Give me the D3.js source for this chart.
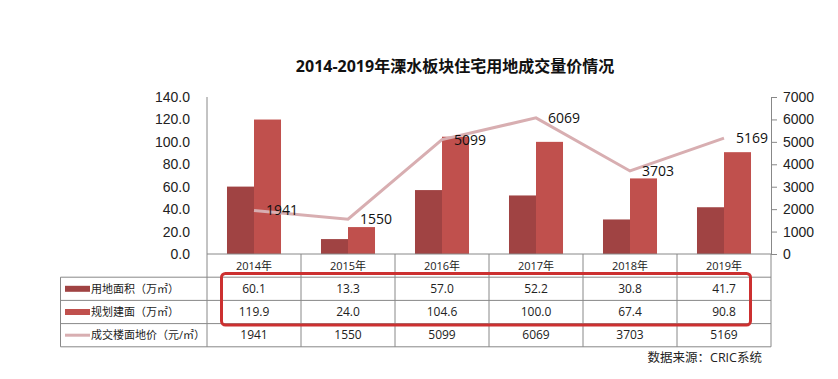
<!DOCTYPE html>
<html>
<head>
<meta charset="utf-8">
<script src="https://cdn.jsdelivr.net/npm/d3@7"></script>
<style>
  body { margin: 0; background: #fff; }
  svg { font-family: "Open Sans", "Noto Sans CJK SC", sans-serif; }
</style>
</head>
<body>
<div id="chart"></div>
<script>
const years = ["2014年", "2015年", "2016年", "2017年", "2018年", "2019年"]
const landArea = [60.1, 13.3, 57.0, 52.2, 30.8, 41.7]
const buildArea = [119.9, 24.0, 104.6, 100.0, 67.4, 90.8]
const landPrice = [1941, 1550, 5099, 6069, 3703, 5169]
const leftTicks = [0, 20, 40, 60, 80, 100, 120, 140]
const rightTicks = [0, 1000, 2000, 3000, 4000, 5000, 6000, 7000]

const seriesNames = ["用地面积（万㎡）", "规划建面（万㎡）", "成交楼面地价（元/㎡）"]
const colors = ["#a04343", "#c0504d", "#d8aeb1"]

const width = 838
const height = 379
const plotLeft = 207, plotRight = 771, plotTop = 97, base = 254
const rowH = 23.2

const svg = d3.select("#chart")
  .append("svg")
  .attr("width", width)
  .attr("height", height)

// title
svg.append("text")
  .attr("x", 455)
  .attr("y", 72)
  .attr("text-anchor", "middle")
  .style("font-size", "16px")
  .style("font-weight", "bold")
  .style("fill", "#111")
  .text("2014-2019年溧水板块住宅用地成交量价情况")

const x = d3.scaleBand().domain(years).range([plotLeft, plotRight])
const xSub = d3.scaleBand().domain([0, 1]).range([0, x.bandwidth()]).paddingOuter(0.74)
const yL = d3.scaleLinear().domain([0, 140]).range([base, plotTop])
const yR = d3.scaleLinear().domain([0, 7000]).range([base, plotTop])

// left axis
const axL = svg.append("g")
  .attr("transform", `translate(${plotLeft},0)`)
  .call(d3.axisLeft(yL).tickValues(leftTicks).tickFormat(d3.format(".1f")).tickSize(0).tickPadding(17))
axL.select(".domain").remove()
axL.selectAll("text").style("font-size", "14px").style("fill", "#222").style("font-family", "inherit")

// right axis
const axR = svg.append("g")
  .attr("transform", `translate(${plotRight},0)`)
  .call(d3.axisRight(yR).tickValues(rightTicks).tickFormat(d3.format("d")).tickSize(6).tickPadding(6))
axR.select(".domain").attr("stroke", "#888")
axR.selectAll("line").attr("stroke", "#888")
axR.selectAll("text").style("font-size", "14px").style("fill", "#222").style("font-family", "inherit")

// bars
const bars = [landArea, buildArea]
bars.forEach((vals, s) => {
  svg.append("g")
    .selectAll("rect")
    .data(vals)
    .join("rect")
    .attr("x", (d, i) => x(years[i]) + xSub(s))
    .attr("width", xSub.bandwidth())
    .attr("y", d => yL(d))
    .attr("height", d => base - yL(d))
    .attr("fill", colors[s])
})

// price line
const line = d3.line()
  .x((d, i) => x(years[i]) + x.bandwidth() / 2)
  .y(d => yR(d))

svg.append("path")
  .datum(landPrice)
  .attr("d", line)
  .attr("fill", "none")
  .attr("stroke", colors[2])
  .attr("stroke-width", 3)

svg.append("g")
  .selectAll("text")
  .data(landPrice)
  .join("text")
  .attr("x", (d, i) => x(years[i]) + x.bandwidth() / 2 + 12)
  .attr("y", d => yR(d) + 5)
  .style("font-size", "14px")
  .style("fill", "#111")
  .text(d => d)

// data table
const grid = svg.append("g").attr("stroke", "#888").attr("stroke-width", 1)
const tableLeft = 60.5
const tableBottom = base + rowH * 4
grid.append("line").attr("x1", plotLeft).attr("x2", plotRight).attr("y1", base).attr("y2", base)
for (let r = 1; r <= 4; r++) {
  grid.append("line").attr("x1", tableLeft).attr("x2", plotRight)
    .attr("y1", base + rowH * r).attr("y2", base + rowH * r)
}
grid.append("line").attr("x1", tableLeft).attr("x2", tableLeft)
  .attr("y1", base + rowH).attr("y2", tableBottom)
grid.append("line").attr("x1", plotLeft).attr("x2", plotLeft).attr("y1", plotTop).attr("y2", tableBottom)
years.forEach(yr => {
  grid.append("line").attr("x1", x(yr) + x.bandwidth()).attr("x2", x(yr) + x.bandwidth())
    .attr("y1", base).attr("y2", tableBottom)
})

svg.append("g")
  .selectAll("text")
  .data(years)
  .join("text")
  .attr("x", d => x(d) + x.bandwidth() / 2)
  .attr("y", base + 16)
  .attr("text-anchor", "middle")
  .style("font-size", "11px")
  .style("fill", "#222")
  .text(d => d)

const rows = [landArea.map(d => d.toFixed(1)), buildArea.map(d => d.toFixed(1)), landPrice.map(String)]
rows.forEach((vals, r) => {
  const cy = base + rowH * (r + 1) + rowH / 2
  svg.append("g")
    .selectAll("text")
    .data(vals)
    .join("text")
    .attr("x", (d, i) => x(years[i]) + x.bandwidth() / 2)
    .attr("y", cy + 4)
    .attr("text-anchor", "middle")
    .style("font-size", "12px")
    .style("fill", "#222")
    .text(d => d)

  svg.append("rect")
    .attr("x", 65)
    .attr("width", 25)
    .attr("y", r < 2 ? cy - 3 : cy - 1.5)
    .attr("height", r < 2 ? 6 : 3)
    .attr("fill", colors[r])

  svg.append("text")
    .attr("x", 91)
    .attr("y", cy + 4)
    .style("font-size", "11px")
    .style("fill", "#222")
    .text(seriesNames[r])
})

// highlight box
svg.append("rect")
  .attr("x", 221.5)
  .attr("y", 273.5)
  .attr("width", 529)
  .attr("height", 51.5)
  .attr("rx", 4)
  .attr("fill", "none")
  .attr("stroke", "#cc3030")
  .attr("stroke-width", 3)

// source
svg.append("text")
  .attr("x", 762)
  .attr("y", 362)
  .attr("text-anchor", "end")
  .style("font-size", "12.5px")
  .style("fill", "#222")
  .text("数据来源：CRIC系统")
</script>
</body>
</html>
